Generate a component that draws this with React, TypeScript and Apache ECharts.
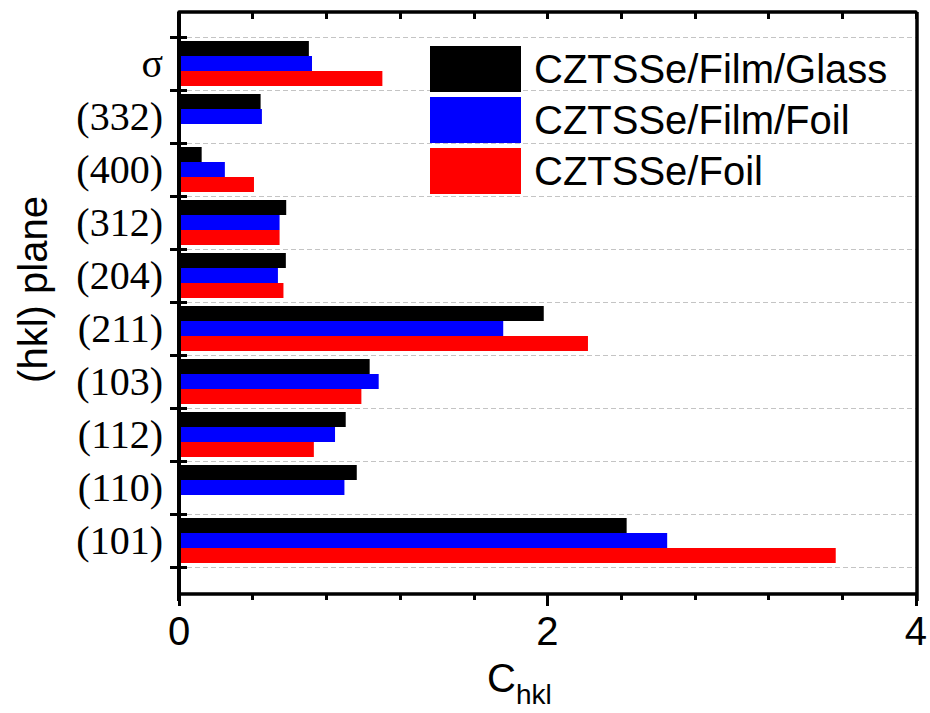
import React, { useEffect, useRef } from "react";
import * as echarts from "echarts";

const categories = ["(101)", "(110)", "(112)", "(103)", "(211)", "(204)", "(312)", "(400)", "(332)", "σ"];
const seriesNames = ["CZTSSe/Film/Glass", "CZTSSe/Film/Foil", "CZTSSe/Foil"];
const filmGlass = [2.43, 0.965, 0.905, 1.035, 1.98, 0.58, 0.582, 0.123, 0.443, 0.705];
const filmFoil = [2.65, 0.898, 0.847, 1.084, 1.76, 0.537, 0.546, 0.249, 0.45, 0.722];
const foil = [3.565, null, 0.732, 0.99, 2.22, 0.567, 0.546, 0.407, null, 1.104];
const xMin = 0;
const xMax = 4;
const xInterval = 2;
const colors = ["#000000", "#0000ff", "#ff0000"];

const SANS = "'Liberation Sans', Arial, sans-serif";
const NARROW = "'Liberation Sans Narrow', 'Arial Narrow', 'Liberation Sans', sans-serif";
const SERIF = "'Liberation Serif', 'Times New Roman', serif";

export default function App() {
  const ref = useRef<HTMLDivElement>(null);
  useEffect(() => {
    if (!ref.current) return;
    const chart = echarts.init(ref.current, null, { renderer: "svg" });
    const gridLeft = 179;
    const gridRight = 13;
    const gridTop = 37;
    const gridBottom = 139;
    const frameTop = 12;
    const frameBottom = 601;
    const values = [filmGlass, filmFoil, foil];
    const option: any = {
      animation: false,
      backgroundColor: "#ffffff",
      grid: { left: gridLeft, right: gridRight, top: gridTop, bottom: gridBottom, containLabel: false },
      legend: {
        orient: "vertical",
        left: 425,
        top: 41,
        itemWidth: 91,
        itemHeight: 46,
        itemGap: 5,
        icon: "rect",
        data: seriesNames,
        textStyle: { fontSize: 40, fontFamily: SANS, color: "#000", padding: [0, 0, 0, 8] },
      },
      xAxis: [
        {
          type: "value",
          position: "bottom",
          offset: 27,
          min: xMin,
          max: xMax,
          interval: xInterval,
          axisLine: { show: true, lineStyle: { color: "#000", width: 3.5 } },
          axisTick: { show: true, length: 12, lineStyle: { color: "#000", width: 3 } },
          minorTick: { show: true, splitNumber: 5, length: 6, lineStyle: { color: "#000", width: 3 } },
          splitLine: { show: false },
          axisLabel: { fontSize: 40, fontFamily: NARROW, color: "#000", margin: 17 },
          name: "{c|C}{s|hkl}",
          nameLocation: "middle",
          nameGap: 54,
          nameTextStyle: {
            padding: [0, 56, 0, 0],
            rich: {
              c: { fontSize: 40, fontFamily: NARROW, color: "#000" },
              s: { fontSize: 28, fontFamily: NARROW, color: "#000", padding: [32, 0, 0, 0] },
            },
          },
        },
        {
          type: "value",
          position: "top",
          offset: 25,
          min: xMin,
          max: xMax,
          interval: xInterval,
          axisLine: { show: true, lineStyle: { color: "#000", width: 3.5 } },
          axisTick: { show: true, inside: true, length: 7, lineStyle: { color: "#000", width: 3 } },
          minorTick: { show: true, splitNumber: 5, length: 7, lineStyle: { color: "#000", width: 3 } },
          splitLine: { show: false },
          axisLabel: { show: false },
        },
      ],
      yAxis: [
        {
          type: "category",
          data: categories,
          position: "left",
          boundaryGap: true,
          axisLine: { show: false },
          axisTick: { show: true, length: 9, lineStyle: { color: "#000", width: 3 } },
          axisLabel: { fontSize: 40, fontFamily: SERIF, color: "#000", margin: 16 },
          splitLine: { show: true, lineStyle: { color: "#c4c4c4", width: 1, type: [5, 3] } },
          name: "(hkl) plane",
          nameLocation: "middle",
          nameGap: 126,
          nameTextStyle: { fontSize: 40, fontFamily: SANS, color: "#000", padding: [0, 0, 0, 25] },
        },
        {
          type: "category",
          data: categories,
          position: "left",
          boundaryGap: true,
          axisLine: { show: false },
          axisTick: { show: true, inside: true, length: 8, lineStyle: { color: "#000", width: 3 } },
          axisLabel: { show: false },
          splitLine: { show: false },
        },
      ],
      graphic: [
        {
          type: "line",
          shape: { x1: gridLeft, y1: frameTop, x2: gridLeft, y2: frameBottom },
          style: { stroke: "#000", lineWidth: 4 },
          z: 100,
        },
        {
          type: "line",
          shape: { x1: 930 - gridRight, y1: frameTop, x2: 930 - gridRight, y2: frameBottom },
          style: { stroke: "#000", lineWidth: 3.5 },
          z: 100,
        },
      ],
      series: seriesNames.map((name, i) => ({
        name,
        type: "bar",
        xAxisIndex: 0,
        yAxisIndex: 0,
        data: values[i],
        barWidth: 15,
        barGap: "0%",
        itemStyle: { color: colors[i] },
      })),
    };
    chart.setOption(option);
    return () => chart.dispose();
  }, []);
  return (
    <div
      ref={ref}
      style={{ position: "fixed", left: 0, top: 0, width: 930, height: 713, background: "#fff" }}
    />
  );
}
